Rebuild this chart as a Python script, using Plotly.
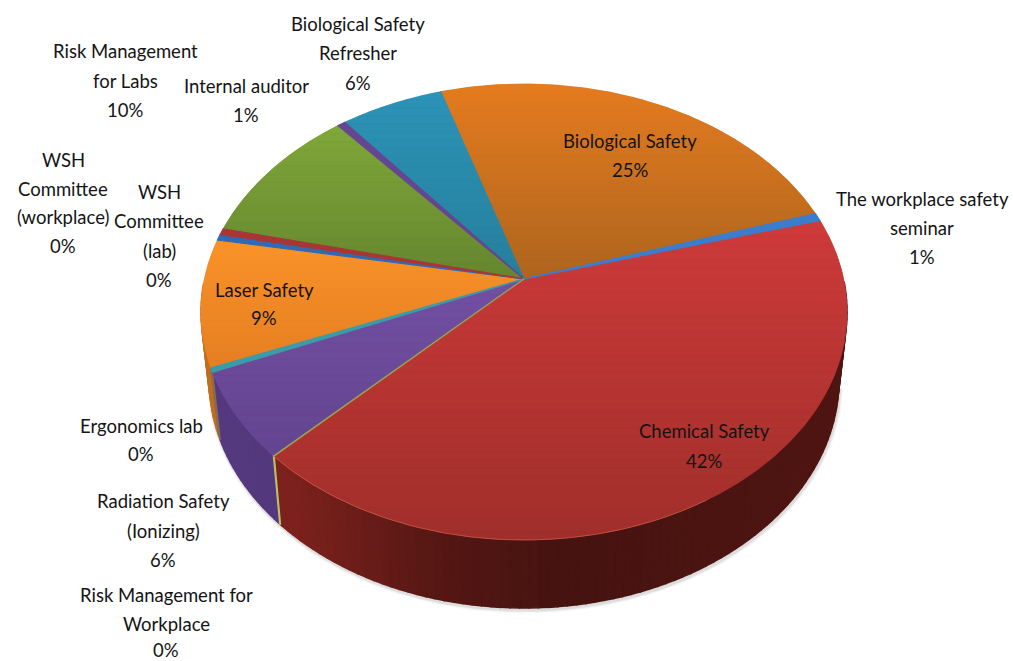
import numpy as np
import plotly.graph_objects as go

# ---- data (clockwise from the Chemical Safety slice) ----
categories = ["Chemical Safety", "Risk Management for Workplace", "Radiation Safety (Ionizing)",
              "Ergonomics lab", "Laser Safety", "WSH Committee (lab)", "WSH Committee (workplace)",
              "Risk Management for Labs", "Internal auditor", "Biological Safety Refresher",
              "Biological Safety", "The workplace safety seminar"]
values = [41.75, 0.05, 6.15, 0.3, 9.0, 0.43, 0.43, 10.1, 0.45, 5.95, 24.85, 0.55]
top_light = ["#CE3B3B", "#9AA64F", "#7350A3", "#3A9CA8", "#F99329", "#3470BE", "#B23A38",
             "#7FA83A", "#6A4A9A", "#2C94B8", "#E57C20", "#3C7FD0"]
top_dark = ["#A02F2B", "#9AA64F", "#634590", "#3A9CA8", "#E67F22", "#2F62A8", "#A03230",
            "#66862F", "#5E4288", "#277F9C", "#AE651E", "#3C7AC8"]
side_col = ["#80231E", "#C0C46A", "#563A80", "#8A6A50", "#C0701F", "#2F62A8", "#A03230",
            "#66902F", "#5E4288", "#277F9C", "#AE651E", "#3C7AC8"]
labels = [
    (["Biological Safety", "Refresher", "6%"], 358, [24, 53, 83]),
    (["Risk Management", "for Labs", "10%"], 125, [51, 81, 110]),
    (["Internal auditor", "1%"], 246, [86, 115]),
    (["WSH", "Committee", "(workplace)", "0%"], 63, [160, 189, 217, 246]),
    (["WSH", "Committee", "(lab)", "0%"], 159, [192, 221, 251, 280]),
    (["Biological Safety", "25%"], 630, [141, 170]),
    (["The workplace safety", "seminar", "1%"], 922, [199, 228, 257]),
    (["Laser Safety", "9%"], 264, [290, 318]),
    (["Chemical Safety", "42%"], 704, [431, 461]),
    (["Ergonomics lab", "0%"], 141, [426, 454]),
    (["Radiation Safety", "(Ionizing)", "6%"], 163, [501, 531, 560]),
    (["Risk Management for", "Workplace", "0%"], 166, [595, 624, 650]),
]

# ---- geometry of the tilted pie ----
CX, CY, RX, RY = 524.0, 312.0, 323.0, 228.0
TILT = 0.145         # perspective offset of the pie's centre on the disc
START = 74.2         # degrees clockwise from the back of the pie
DEPTH = 68.0
BOTTOM_SCALE = 0.975


def rim(phi_deg):
    p = np.radians(phi_deg)
    x, y = np.sin(p), np.cos(p)
    s = np.sqrt(1 - TILT ** 2)
    den = 1 + TILT * y
    return x * s / den, (y + TILT) / den


def to_px(u, v, bottom=False):
    if bottom:
        return CX + u * RX * BOTTOM_SCALE, CY - v * RY + DEPTH
    return CX + u * RX, CY - v * RY


def hex2rgb(h):
    return np.array([int(h[i:i + 2], 16) for i in (1, 3, 5)], float)


def rgb(c):
    c = np.clip(c, 0, 255)
    return f"rgb({int(c[0])},{int(c[1])},{int(c[2])})"


def clip_band(poly, y0, y1):
    def clip(pts, inside, cross):
        out = []
        for i in range(len(pts)):
            a, b = pts[i], pts[(i + 1) % len(pts)]
            ia, ib = inside(a), inside(b)
            if ia:
                out.append(a)
            if ia != ib:
                out.append(cross(a, b))
        return out

    def crossing(level):
        def f(a, b):
            t = (level - a[1]) / (b[1] - a[1])
            return (a[0] + t * (b[0] - a[0]), level)
        return f
    pts = clip(poly, lambda p: p[1] >= y0, crossing(y0))
    if pts:
        pts = clip(pts, lambda p: p[1] <= y1, crossing(y1))
    return pts


fig = go.Figure()


def poly_trace(xs, ys, color, lw=0.6, linecolor=None):
    fig.add_trace(go.Scatter(x=list(xs) + [xs[0]], y=list(ys) + [ys[0]], mode="lines", fill="toself",
                             fillcolor=color, line=dict(color=linecolor or color, width=lw),
                             hoverinfo="skip", showlegend=False))


edges = START + np.concatenate([[0], np.cumsum(values)]) / sum(values) * 360.0
# thin slices are painted last so that the wide neighbours do not hide them
paint_order = sorted(range(len(values)), key=lambda k: -values[k])

# soft shadow under the side wall
for w, col in [(7, "rgba(120,120,120,0.05)"), (5, "rgba(120,120,120,0.07)"), (3, "rgba(100,100,100,0.12)")]:
    ph = np.linspace(100, 255, 160)
    u, v = rim(ph)
    px, py = to_px(u, v, True)
    fig.add_trace(go.Scatter(x=px + 1, y=py + 2, mode="lines", line=dict(color=col, width=w),
                             hoverinfo="skip", showlegend=False))

# side wall: darkest in front, lighter toward the left end
shade_x = [-1.0, -0.72, -0.25, 0.1, 0.7, 1.0]
shade_f = [1.0, 0.97, 0.66, 0.55, 0.6, 0.62]
for i in paint_order:
    grid = np.arange(edges[i], edges[i + 1], 1.5)
    grid = np.append(grid, edges[i + 1])
    base = hex2rgb(side_col[i])
    for a, b in zip(grid[:-1], grid[1:]):
        ua, va = rim(a)
        ub, vb = rim(b)
        if max(va, vb) > 0.14:
            continue
        xa, ya = to_px(ua, va)
        xb, yb = to_px(ub, vb)
        xa2, ya2 = to_px(ua, va, True)
        xb2, yb2 = to_px(ub, vb, True)
        f = np.interp((ua + ub) / 2, shade_x, shade_f)
        poly_trace([xa, xb, xb2, xa2], [ya, yb, yb2, ya2], rgb(base * f), lw=1.5)

# top face with a vertical gradient in every slice
apex = to_px(0, TILT)
BAND = 8.0
for i in paint_order:
    ph = np.linspace(edges[i], edges[i + 1], max(3, int(values[i] * 8)))
    u, v = rim(ph)
    px, py = to_px(u, v)
    xs, ys = [apex[0]] + list(px), [apex[1]] + list(py)
    ymin, ymax = min(ys), max(ys)
    c0, c1 = hex2rgb(top_light[i]), hex2rgb(top_dark[i])
    poly_trace(xs, ys, rgb((c0 + c1) / 2), lw=1.2 if values[i] < 0.6 else 0.5)
    poly = list(zip(xs, ys))
    if values[i] < 1:
        continue
    for y0 in np.arange(ymin, ymax, BAND):
        pts = clip_band(poly, y0, y0 + BAND)
        if len(pts) < 3:
            continue
        t = (y0 + BAND / 2 - ymin) / max(1.0, ymax - ymin)
        poly_trace([p[0] for p in pts], [p[1] for p in pts], rgb(c0 + (c1 - c0) * t), lw=0.5)

# light bevel along the front rim
ph = np.linspace(150, 225, 80)
u, v = rim(ph)
px, py = to_px(u, v)
fig.add_trace(go.Scatter(x=px, y=py, mode="lines", line=dict(color="rgba(235,130,110,0.4)", width=1.0),
                         hoverinfo="skip", showlegend=False))

annotations = []
for lines, cx, ys in labels:
    for txt, y in zip(lines, ys):
        annotations.append(dict(x=cx, y=y, text=txt, showarrow=False, xanchor="center", yanchor="middle",
                                font=dict(family="Lato", size=18.5, color="#141414")))

fig.update_layout(
    width=1013, height=661, autosize=False, margin=dict(l=0, r=0, t=0, b=0),
    paper_bgcolor="white", plot_bgcolor="white", showlegend=False, annotations=annotations,
    xaxis=dict(range=[0, 1013], visible=False, fixedrange=True),
    yaxis=dict(range=[661, 0], visible=False, fixedrange=True),
)
fig.write_html("out.html", config=dict(displayModeBar=False),
               post_script="document.body.style.margin='0';document.documentElement.style.overflow='hidden';")
